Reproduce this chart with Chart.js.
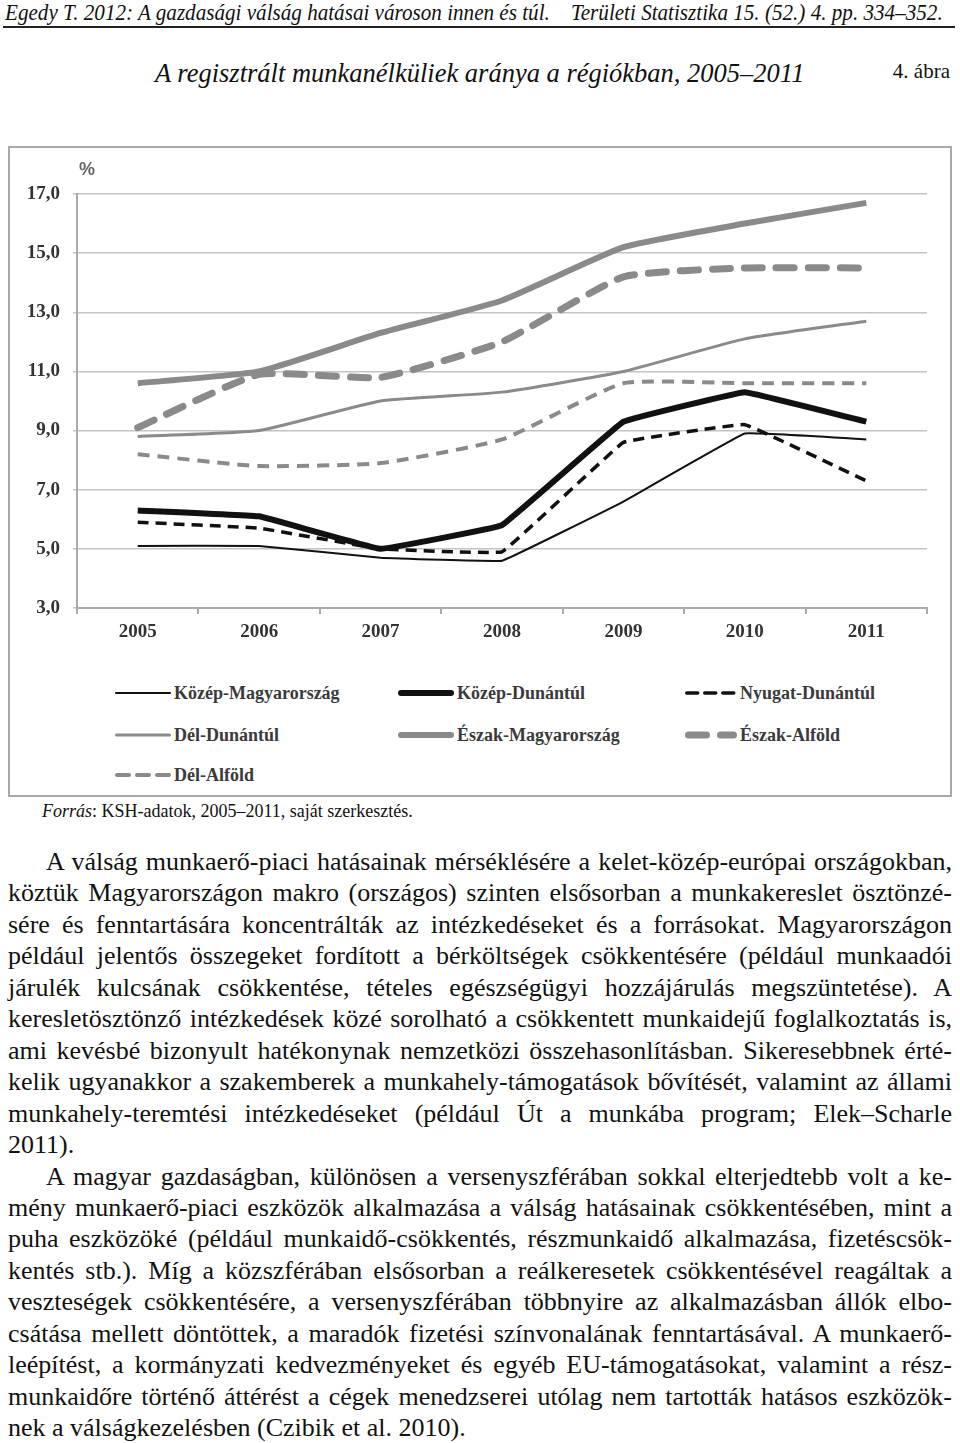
<!DOCTYPE html>
<html>
<head>
<meta charset="utf-8">
<script src="https://cdn.jsdelivr.net/npm/chart.js@4.4.0/dist/chart.umd.min.js"></script>
<style>
  body { margin: 0; background: #fff; width: 960px; height: 1443px; position: relative; overflow: hidden;
         font-family: "Liberation Serif", "Times New Roman", serif; color: #111; }
  #head { position: absolute; left: 5px; top: -2px; font-style: italic; font-size: 24px; line-height: 28px; white-space: nowrap;
          transform: scaleX(0.88); transform-origin: 0 0; }
  #rule { position: absolute; left: 3px; top: 26px; width: 952px; height: 2px; background: #222; }
  #abra { position: absolute; right: 10px; top: 59px; font-size: 21px; }
  #title { position: absolute; left: 155px; top: 58px; font-style: italic; font-size: 26.5px; white-space: nowrap; }
  #box { position: absolute; left: 8px; top: 146px; width: 940px; height: 647px; border: 2px solid #a8a8a8; }
  #pct { position: absolute; left: 79px; top: 159px; font-family: Arial, "Liberation Sans", sans-serif; font-weight: bold; font-size: 18px; color: #666; }
  canvas#chart { position: absolute; left: 9px; top: 147px; }
  .lg { position: absolute; display: flex; align-items: center; font-weight: bold; font-size: 18px; color: #3a3a3a; white-space: nowrap; }
  .lg svg { display: block; margin-right: 3px; }
  #src { position: absolute; left: 42px; top: 801px; font-size: 18px; }
  #text { position: absolute; left: 8px; top: 846px; width: 944px; font-size: 26px; line-height: 31.45px; }
  #text div { text-align: justify; text-align-last: justify; white-space: nowrap; }
  #text div.ind { text-indent: 38px; }
  #text div.end { text-align-last: left; }
</style>
</head>
<body>
<div id="head">Egedy T. 2012: A gazdasági válság hatásai városon innen és túl.&nbsp;&nbsp;&nbsp; Területi Statisztika 15. (52.) 4. pp. 334–352.</div>
<div id="rule"></div>
<div id="abra">4. ábra</div>
<div id="title">A regisztrált munkanélküliek aránya a régiókban, 2005–2011</div>
<div id="box"></div>
<canvas id="chart" width="938" height="510"></canvas>
<div id="pct">%</div>
<div id="legend"></div>
<div id="src"><i>Forrás</i>: KSH-adatok, 2005–2011, saját szerkesztés.</div>
<div id="text">
  <div class="ind">A válság munkaerő-piaci hatásainak mérséklésére a kelet-közép-európai országokban,</div>
  <div>köztük Magyarországon makro (országos) szinten elsősorban a munkakereslet ösztönzé-</div>
  <div>sére és fenntartására koncentrálták az intézkedéseket és a forrásokat. Magyarországon</div>
  <div>például jelentős összegeket fordított a bérköltségek csökkentésére (például munkaadói</div>
  <div>járulék kulcsának csökkentése, tételes egészségügyi hozzájárulás megszüntetése). A</div>
  <div>keresletösztönző intézkedések közé sorolható a csökkentett munkaidejű foglalkoztatás is,</div>
  <div>ami kevésbé bizonyult hatékonynak nemzetközi összehasonlításban. Sikeresebbnek érté-</div>
  <div>kelik ugyanakkor a szakemberek a munkahely-támogatások bővítését, valamint az állami</div>
  <div>munkahely-teremtési intézkedéseket (például Út a munkába program; Elek–Scharle</div>
  <div class="end">2011).</div>
  <div class="ind">A magyar gazdaságban, különösen a versenyszférában sokkal elterjedtebb volt a ke-</div>
  <div>mény munkaerő-piaci eszközök alkalmazása a válság hatásainak csökkentésében, mint a</div>
  <div>puha eszközöké (például munkaidő-csökkentés, részmunkaidő alkalmazása, fizetéscsök-</div>
  <div>kentés stb.). Míg a közszférában elsősorban a reálkeresetek csökkentésével reagáltak a</div>
  <div>veszteségek csökkentésére, a versenyszférában többnyire az alkalmazásban állók elbo-</div>
  <div>csátása mellett döntöttek, a maradók fizetési színvonalának fenntartásával. A munkaerő-</div>
  <div>leépítést, a kormányzati kedvezményeket és egyéb EU-támogatásokat, valamint a rész-</div>
  <div>munkaidőre történő áttérést a cégek menedzserei utólag nem tartották hatásos eszközök-</div>
  <div class="end">nek a válságkezelésben (Czibik et al. 2010).</div>
</div>
<script>
// years on the x axis
const years = ["2005", "2006", "2007", "2008", "2009", "2010", "2011"];

// registered unemployed rate, %
const kozepMagyarorszag = [5.1, 5.1, 4.7, 4.6, 6.6, 8.9, 8.7];
const kozepDunantul = [6.3, 6.1, 5.0, 5.8, 9.3, 10.3, 9.3];
const nyugatDunantul = [5.9, 5.7, 5.0, 4.9, 8.6, 9.2, 7.3];
const delDunantul = [8.8, 9.0, 10.0, 10.3, 11.0, 12.1, 12.7];
const eszakMagyarorszag = [10.6, 11.0, 12.3, 13.4, 15.2, 16.0, 16.7];
const eszakAlfold = [9.1, 10.9, 10.8, 12.0, 14.2, 14.5, 14.5];
const delAlfold = [8.2, 7.8, 7.9, 8.7, 10.6, 10.6, 10.6];

const yTicks = [3, 5, 7, 9, 11, 13, 15, 17];

const BLACK = "#111";
const GREY = "#8a8a8a";

const datasets = [
  { label: "Közép-Magyarország", data: kozepMagyarorszag, borderColor: BLACK, borderWidth: 2, tension: 0.05 },
  { label: "Közép-Dunántúl", data: kozepDunantul, borderColor: BLACK, borderWidth: 6, tension: 0.05 },
  { label: "Nyugat-Dunántúl", data: nyugatDunantul, borderColor: BLACK, borderWidth: 3.5, borderDash: [11, 7], tension: 0.05 },
  { label: "Dél-Dunántúl", data: delDunantul, borderColor: GREY, borderWidth: 3, tension: 0.15 },
  { label: "Észak-Magyarország", data: eszakMagyarorszag, borderColor: GREY, borderWidth: 6, tension: 0.15 },
  { label: "Észak-Alföld", data: eszakAlfold, borderColor: GREY, borderWidth: 7, borderDash: [18, 14], borderCapStyle: "round", tension: 0.15 },
  { label: "Dél-Alföld", data: delAlfold, borderColor: GREY, borderWidth: 4, borderDash: [12, 8], tension: 0.15 },
];

const tickFont = { family: "Liberation Serif", size: 19, weight: "bold" };

const chart = new Chart(document.getElementById("chart"), {
  type: "line",
  data: {
    labels: years,
    datasets: datasets.map(d => ({ ...d, pointRadius: 0, fill: false, backgroundColor: d.borderColor })),
  },
  options: {
    responsive: false,
    animation: false,
    layout: { padding: { top: 47, right: 20, left: 0, bottom: 0 } },
    plugins: { legend: { display: false }, tooltip: { enabled: false } },
    scales: {
      x: {
        offset: true,
        afterFit: s => { s.height = 49; },
        grid: { offset: true, drawOnChartArea: false, drawTicks: true, tickLength: 6, color: "#aaa", lineWidth: 2 },
        border: { color: "#aaa", width: 2 },
        ticks: { font: tickFont, color: "#333", padding: 7, maxRotation: 0 },
      },
      y: {
        min: 3,
        max: 17,
        afterFit: s => { s.width = 68; },
        afterBuildTicks: s => { s.ticks = yTicks.map(v => ({ value: v })); },
        grid: { color: "#c4c4c4", lineWidth: 1.5, tickLength: 4 },
        border: { color: "#aaa", width: 2 },
        ticks: { font: tickFont, color: "#333", padding: 13, callback: v => v.toFixed(1).replace(".", ",") },
      },
    },
  },
});

// legend laid out in three columns like the original
const legendCols = [115, 398, 685];
const legendRows = [693, 735, 775];
const legendEl = document.getElementById("legend");
chart.data.datasets.forEach((ds, i) => {
  const col = i % 3, row = Math.floor(i / 3);
  const w = col === 2 ? 52 : 56;
  const item = document.createElement("div");
  item.className = "lg";
  item.style.left = legendCols[col] + "px";
  item.style.top = (legendRows[row] - 12) + "px";
  item.style.height = "24px";
  const dash = ds.borderDash ? ds.borderDash.join(" ") : "none";
  item.innerHTML =
    `<svg width="${w}" height="12"><line x1="${ds.borderWidth / 2}" y1="6" x2="${w - ds.borderWidth / 2}" y2="6" stroke="${ds.borderColor}"` +
    ` stroke-width="${ds.borderWidth}" stroke-dasharray="${dash}" stroke-linecap="round"/></svg>` +
    `<span>${ds.label}</span>`;
  legendEl.appendChild(item);
});
</script>
</body>
</html>
